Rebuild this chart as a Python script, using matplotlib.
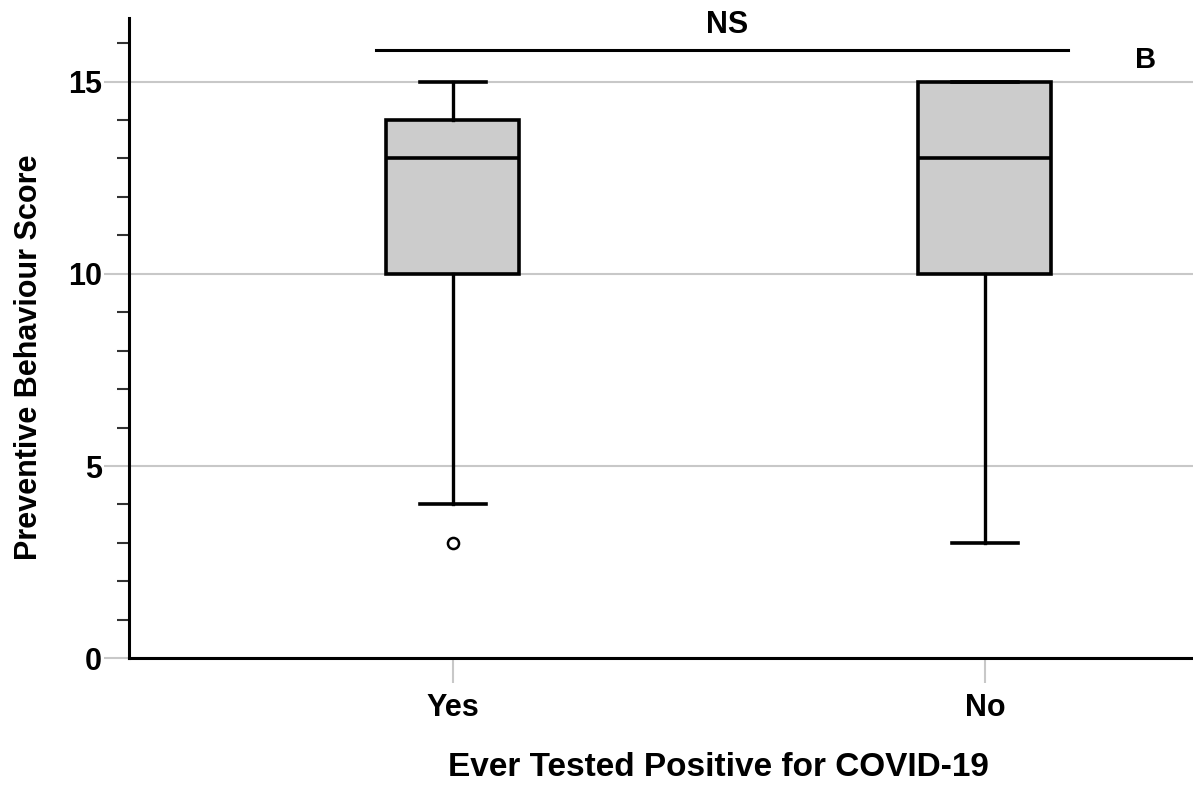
import matplotlib
matplotlib.use("Agg")
import matplotlib.pyplot as plt

categories = ["Yes", "No"]
whisker_low = [4, 3]
q1_vals = [10, 10]
medians = [13, 13]
q3_vals = [14, 15]
whisker_high = [15, 15]
outliers = [[3], []]

plt.rcParams['font.family'] = ['Liberation Sans', 'DejaVu Sans']
plt.rcParams['font.weight'] = 'bold'

fig = plt.figure(figsize=(11.93, 7.86), dpi=100)
ax = fig.add_axes([0.108, 0.1625, 0.892, 0.8145])

stats = []
for i, c in enumerate(categories):
    stats.append(dict(label=c, whislo=whisker_low[i], q1=q1_vals[i], med=medians[i],
                      q3=q3_vals[i], whishi=whisker_high[i], fliers=outliers[i]))

ax.bxp(stats, positions=[0, 1], widths=0.25, patch_artist=True,
       boxprops=dict(facecolor='#cccccc', edgecolor='black', linewidth=2.6),
       medianprops=dict(color='black', linewidth=2.6),
       whiskerprops=dict(color='black', linewidth=2.4),
       capprops=dict(color='black', linewidth=2.6),
       capwidths=0.125,
       flierprops=dict(marker='o', markerfacecolor='white', markeredgecolor='black',
                       markersize=8, markeredgewidth=1.8))

ax.set_xlim(-0.609, 1.391)
ax.set_ylim(0, 16.65)
ax.set_yticks([0, 5, 10, 15])
ax.set_yticks(range(0, 17), minor=True)
ax.yaxis.grid(True, which='major', color='#c8c8c8', linewidth=1.5)
ax.set_axisbelow(True)

for s in ['top', 'right']:
    ax.spines[s].set_visible(False)
for s in ['left', 'bottom']:
    ax.spines[s].set_linewidth(2.2)

ax.tick_params(axis='both', which='major', length=18, width=1.5, color='#c8c8c8',
               labelsize=22)
ax.tick_params(axis='y', which='major', pad=1.5)
ax.tick_params(axis='y', which='minor', length=9, width=1.5, color='#333333')
ax.tick_params(axis='x', which='major', pad=7)
for lab in ax.get_xticklabels() + ax.get_yticklabels():
    lab.set_fontweight('bold')

ax.set_ylabel("Preventive Behaviour Score", fontsize=22, fontweight='bold')
ax.yaxis.set_label_coords(-0.080, 0.47)
ax.set_xlabel("Ever Tested Positive for COVID-19", fontsize=24, fontweight='bold')
ax.xaxis.set_label_coords(0.5536, -0.146)

# significance bar
ax.plot([-0.145, 1.156], [15.81, 15.81], color='black', linewidth=2.2, clip_on=False)
ax.text(0.515, 16.46, "NS", ha='center', va='center', fontsize=22, fontweight='bold')
ax.text(1.302, 15.57, "B", ha='center', va='center', fontsize=21, fontweight='bold')

fig.savefig("out.png", dpi=100)
